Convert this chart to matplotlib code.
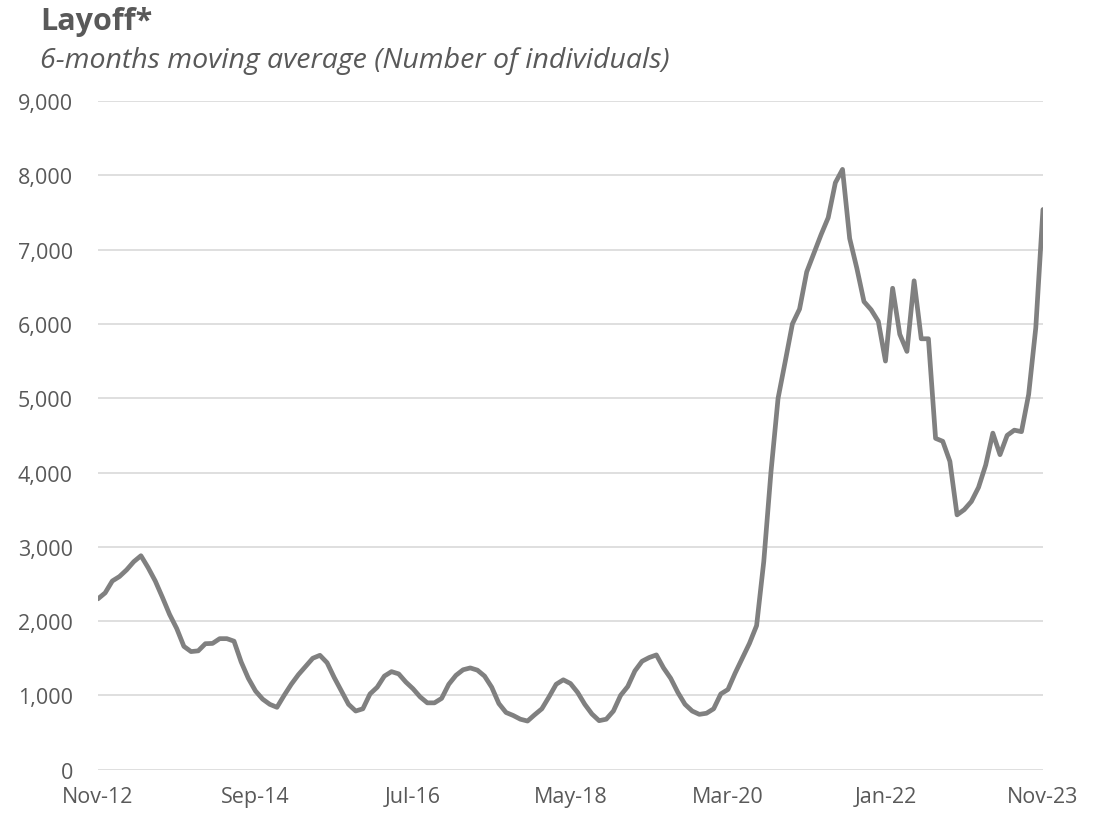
import matplotlib
matplotlib.use("Agg")
import matplotlib.pyplot as plt
from matplotlib.ticker import FuncFormatter

# Monthly 6-month moving average, Nov-12 .. Nov-23
layoffs = [
    2300, 2380, 2540, 2600, 2690, 2800, 2880, 2720, 2540, 2320,   # Nov-12 ..
    2090, 1900, 1660, 1590, 1600, 1696, 1700, 1764, 1764, 1730,
    1450, 1230, 1060, 950, 880, 840, 1000, 1150, 1280, 1390,
    1500, 1540, 1440, 1240, 1060, 880, 790, 820, 1020, 1110,
    1260, 1320, 1290, 1180, 1090, 980, 900, 900, 960, 1150,
    1270, 1345, 1370, 1340, 1260, 1110, 890, 770, 730, 680,
    655, 740, 820, 980, 1150, 1210, 1160, 1040, 880, 750,
    660, 680, 790, 1000, 1120, 1330, 1460, 1510, 1545, 1370,
    1230, 1040, 880, 790, 745, 760, 820, 1020, 1080, 1300,
    1500, 1700, 1940, 2800, 4000, 5000, 5495, 6000, 6200, 6700,
    6950, 7200, 7430, 7900, 8080, 7150, 6750, 6300, 6190, 6035,
    5500, 6480, 5860, 5630, 6580, 5800, 5800, 4460, 4420, 4150,
    3430, 3500, 3610, 3800, 4100, 4530, 4240, 4500, 4570, 4550,
    5050, 5950, 7540,
]
tick_labels = ["Nov-12", "Sep-14", "Jul-16", "May-18", "Mar-20", "Jan-22", "Nov-23"]
tick_step = 22

plt.rcParams["font.family"] = ["Open Sans", "DejaVu Sans"]

text_col = "#595959"
fig = plt.figure(figsize=(11.06, 8.2), dpi=100)
ax = fig.add_axes([0.0886, 0.0601, 0.8544, 0.8155])

months = list(range(len(layoffs)))
ax.plot(months, layoffs, color="#808080", linewidth=3.4,
        solid_joinstyle="round", solid_capstyle="round", zorder=3)

ax.set_xlim(0, len(layoffs) - 1)
ax.set_ylim(0, 9000)
ax.set_yticks(range(0, 9001, 1000))
ax.yaxis.set_major_formatter(FuncFormatter(lambda v, p: f"{int(v):,}"))
ax.set_xticks(range(0, len(layoffs), tick_step))
ax.set_xticklabels(tick_labels)

ax.grid(axis="y", color="#d9d9d9", linewidth=1.2, zorder=0)
for s in ax.spines.values():
    s.set_visible(False)
ax.tick_params(axis="both", length=0, labelsize=15.5, labelcolor=text_col)
ax.tick_params(axis="y", pad=18)
ax.tick_params(axis="x", pad=12)

fig.text(0.036, 0.992, "Layoff*", fontsize=22, fontweight="bold",
         color=text_col, va="top", ha="left")
fig.text(0.036, 0.943, "6-months moving average (Number of individuals)",
         fontsize=20.5, fontstyle="italic", color=text_col, va="top", ha="left")

fig.savefig("out.png", dpi=100)
